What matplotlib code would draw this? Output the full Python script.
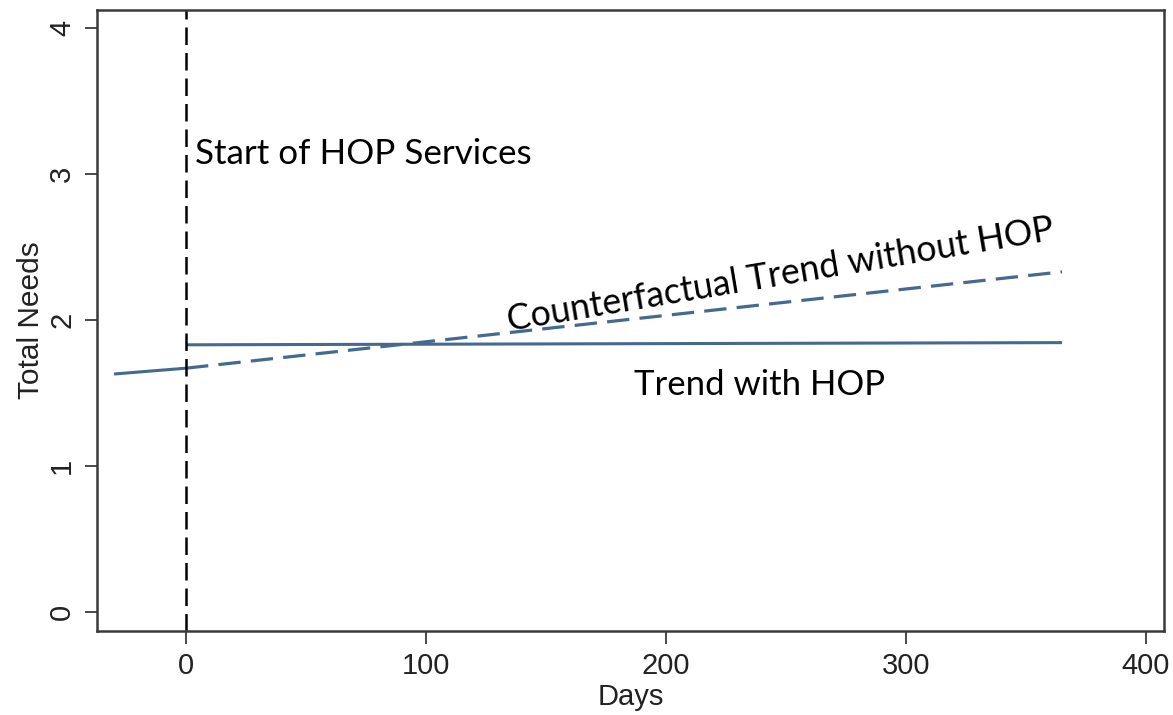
import matplotlib
matplotlib.use("Agg")
import matplotlib.pyplot as plt

# Data
pre_days = [-30, 0]
pre_needs = [1.63, 1.67]
post_days = [0, 365]
post_needs = [1.83, 1.845]
cf_days = [0, 365]
cf_needs = [1.67, 2.33]
xticks = [0, 100, 200, 300, 400]
yticks = [0, 1, 2, 3, 4]

line_color = "#45698f"
spine_color = "#3a3a3a"

fig = plt.figure(figsize=(11.73, 7.15), dpi=100)
ax = fig.add_axes([97/1173, 1-631/715, (1164-97)/1173, (631-10)/715])

ax.plot(pre_days, pre_needs, color=line_color, lw=2.2, solid_capstyle="butt")
ax.plot(post_days, post_needs, color=line_color, lw=2.2, solid_capstyle="butt")
ax.plot(cf_days, cf_needs, color=line_color, lw=2.3, linestyle=(0, (7, 3.2)))
ax.axvline(0, color="black", lw=1.8, linestyle=(0, (7, 3.2)))

ax.set_xlim(-37.1, 407.5)
ax.set_ylim(-0.13, 4.123)

for s in ax.spines.values():
    s.set_color(spine_color)
    s.set_linewidth(1.8)

ax.set_xticks(xticks)
ax.set_yticks(yticks)
ax.set_xticklabels([str(t) for t in xticks], fontfamily="Liberation Sans", fontsize=21, color="#222222")
ax.set_yticklabels([str(t) for t in yticks], fontfamily="Liberation Sans", fontsize=21, color="#222222",
                   rotation=90, va="center")
ax.tick_params(axis="both", length=9, width=1.3, color=spine_color, pad=6)

ax.set_xlabel("Days", fontfamily="Liberation Sans", fontsize=21, color="#222222", labelpad=2)
ax.set_ylabel("Total Needs", fontfamily="Liberation Sans", fontsize=21.5, color="#222222", labelpad=2)

tf = dict(fontfamily="Lato", color="black")
ax.text(3.8, 3.14, "Start of HOP Services", ha="left", va="center", fontsize=25.2, **tf)
ax.text(247.5, 2.31, "Counterfactual Trend without HOP", ha="center", va="center",
        rotation=9.5, rotation_mode="anchor", fontsize=25.7, **tf)
ax.text(239, 1.555, "Trend with HOP", ha="center", va="center", fontsize=25, **tf)

fig.savefig("out.png", dpi=100)
